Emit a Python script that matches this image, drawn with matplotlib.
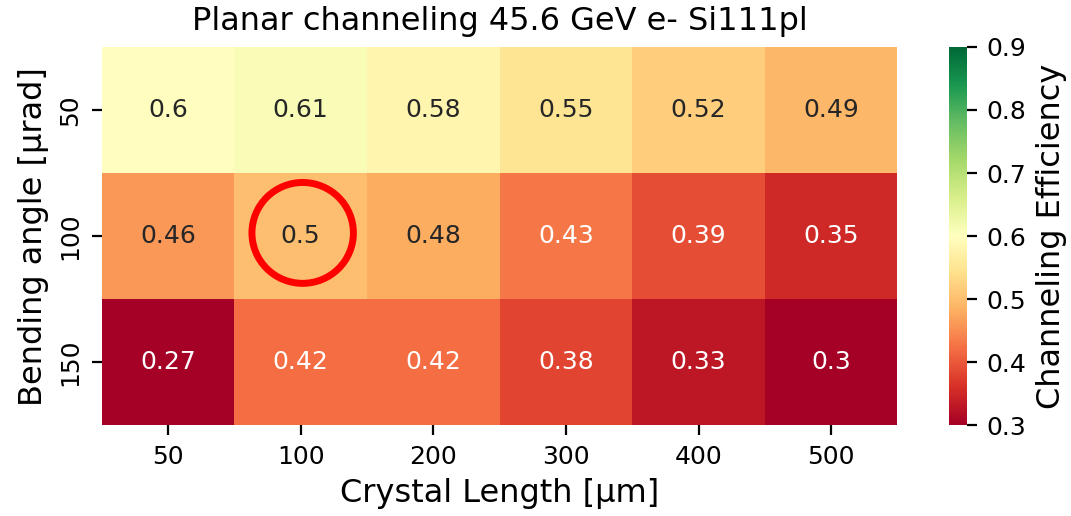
import numpy as np
import pandas as pd
import matplotlib
matplotlib.use("Agg")
import matplotlib.pyplot as plt
import seaborn as sns
from matplotlib.patches import Ellipse

# Data
crystal_lengths = [50, 100, 200, 300, 400, 500]
bending_angles = [50, 100, 150]
eff_50 = [0.60, 0.61, 0.58, 0.55, 0.52, 0.49]
eff_100 = [0.46, 0.50, 0.48, 0.43, 0.39, 0.35]
eff_150 = [0.27, 0.42, 0.42, 0.38, 0.33, 0.30]

df = pd.DataFrame([eff_50, eff_100, eff_150], index=bending_angles, columns=crystal_lengths)

fig = plt.figure(figsize=(10.71, 5.16), dpi=100)
ax = fig.add_axes([0.095, 0.176, 0.743, 0.733])
cax = fig.add_axes([0.886, 0.176, 0.0168, 0.733])

sns.heatmap(
    df, ax=ax, cbar_ax=cax, cmap="RdYlGn", vmin=0.3, vmax=0.9,
    annot=True, fmt="g", annot_kws={"fontsize": 18},
)

# highlight cell (L=100, angle=100)
ax.add_patch(Ellipse((1.515, 1.475), 0.765, 0.80, fill=False, edgecolor="red", linewidth=5))

ax.set_title("Planar channeling 45.6 GeV e- Si111pl", fontsize=23, pad=12)
ax.set_xlabel("Crystal Length [µm]", fontsize=23, labelpad=7)
ax.set_ylabel("Bending angle [µrad]", fontsize=23, labelpad=7)
ax.tick_params(axis="both", labelsize=18, length=7, width=1.6, pad=7)
cax.tick_params(labelsize=18, length=7, width=1.6, pad=7)
cax.set_ylabel("Channeling Efficiency", fontsize=23, labelpad=7)

fig.savefig("out.png", dpi=100)
